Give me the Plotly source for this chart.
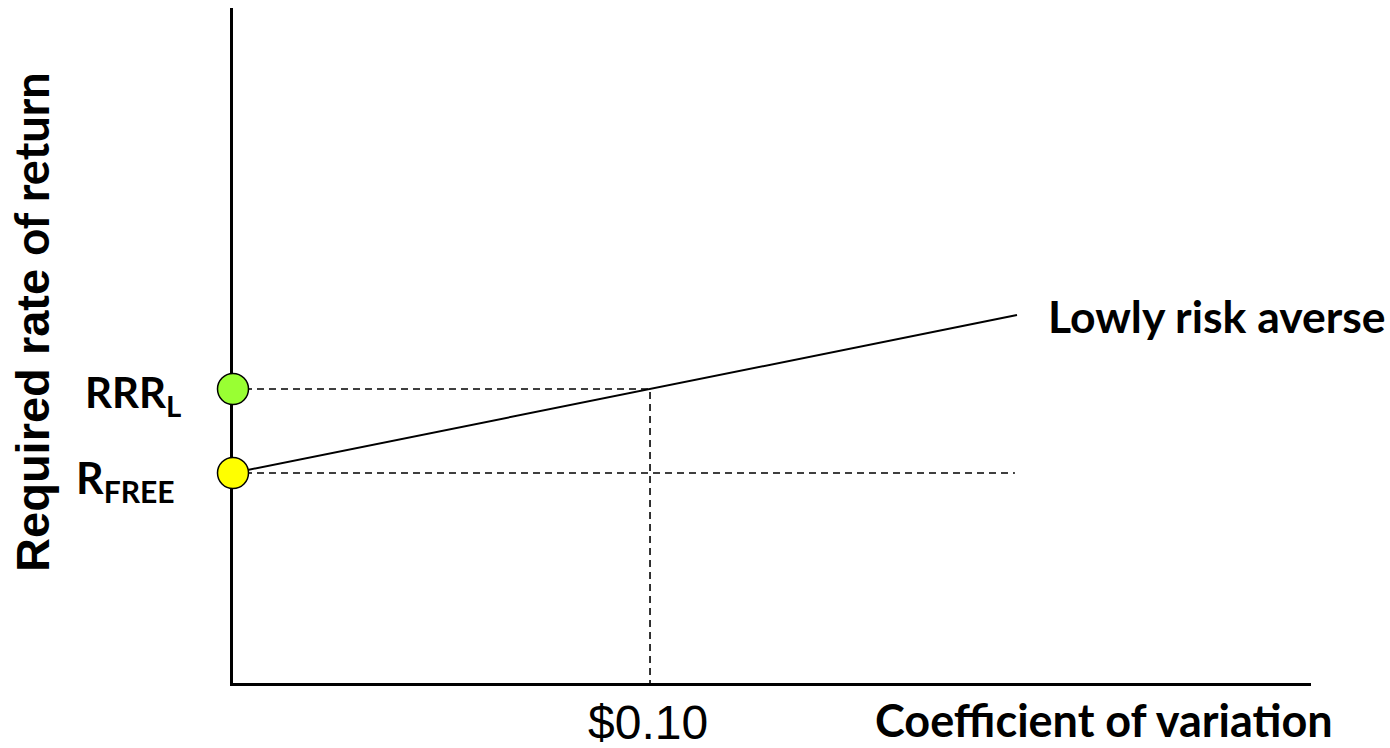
import plotly.graph_objects as go

# Required rate of return against coefficient of variation
cv_line = [0.0, 0.10, 0.188]          # coefficient of variation
rrr_line = [5.0, 7.0, 8.76]           # required rate of return (%)
r_free = 5.0
rrr_l = 7.0
cv_l = 0.10
cv_free_end = 0.1875

x_max = 0.2585
y_max = 16.07

fig = go.Figure()

# dashed guide lines
guide = dict(color="black", width=1.6, dash="7px,5px")
fig.add_trace(go.Scatter(x=[0, cv_free_end], y=[r_free, r_free], mode="lines",
                         line=guide, hoverinfo="skip", cliponaxis=False))
fig.add_trace(go.Scatter(x=[0, cv_l, cv_l], y=[rrr_l, rrr_l, 0], mode="lines",
                         line=guide, hoverinfo="skip", cliponaxis=False))

# risk-aversion line
fig.add_trace(go.Scatter(x=cv_line, y=rrr_line, mode="lines",
                         line=dict(color="black", width=2), cliponaxis=False))

# points on the vertical axis
fig.add_trace(go.Scatter(x=[0], y=[rrr_l], mode="markers", cliponaxis=False,
                         marker=dict(size=31, color="#99ff33",
                                     line=dict(color="black", width=1.5))))
fig.add_trace(go.Scatter(x=[0], y=[r_free], mode="markers", cliponaxis=False,
                         marker=dict(size=31, color="#ffff00",
                                     line=dict(color="black", width=1.5))))

calibri_like = "Lato"
arial_like = "Liberation Sans"

annotations = [
    dict(text="Lowly risk averse", x=cv_line[-1], y=rrr_line[-1], xref="x", yref="y",
         xanchor="left", yanchor="middle", xshift=29, yshift=0, showarrow=False,
         font=dict(family=calibri_like, size=44.5, color="black", weight="bold")),
    dict(text="RRR<sub>L</sub>", x=0, y=rrr_l, xref="x", yref="y",
         xanchor="right", yanchor="middle", xshift=-50, yshift=-6, showarrow=False,
         font=dict(family=calibri_like, size=42, color="black", weight="bold")),
    dict(text="R<sub>FREE</sub>", x=0, y=r_free, xref="x", yref="y",
         xanchor="right", yanchor="middle", xshift=-56, yshift=-8, showarrow=False,
         font=dict(family=calibri_like, size=43, color="black", weight="bold")),
    dict(text="$0.10", x=cv_l, y=0, xref="x", yref="paper",
         xanchor="center", yanchor="middle", xshift=-2, yshift=-39, showarrow=False,
         font=dict(family=arial_like, size=48, color="black")),
    dict(text="Coefficient of variation", x=1, y=0, xref="paper", yref="paper",
         xanchor="right", yanchor="middle", xshift=24, yshift=-37, showarrow=False,
         font=dict(family=calibri_like, size=45, color="black", weight="bold")),
    dict(text="Required rate <span style='font-family:Lato'>of return</span>",
         x=0, y=0.535, xref="paper", yref="paper", textangle=-90,
         xanchor="center", yanchor="middle", xshift=-202, showarrow=False,
         font=dict(family=arial_like, size=47, color="black", weight="bold")),
]

fig.update_layout(
    width=1390, height=748,
    margin=dict(l=233, r=79, t=8, b=65),
    paper_bgcolor="white", plot_bgcolor="white",
    showlegend=False,
    annotations=annotations,
    xaxis=dict(range=[0, x_max], showline=True, linecolor="black", linewidth=3,
               showgrid=False, zeroline=False, showticklabels=False, ticks="",
               layer="below traces", fixedrange=True),
    yaxis=dict(range=[0, y_max], showline=True, linecolor="black", linewidth=3,
               showgrid=False, zeroline=False, showticklabels=False, ticks="",
               layer="below traces", fixedrange=True),
)

fig.write_html("out.html", config={"displayModeBar": False})
